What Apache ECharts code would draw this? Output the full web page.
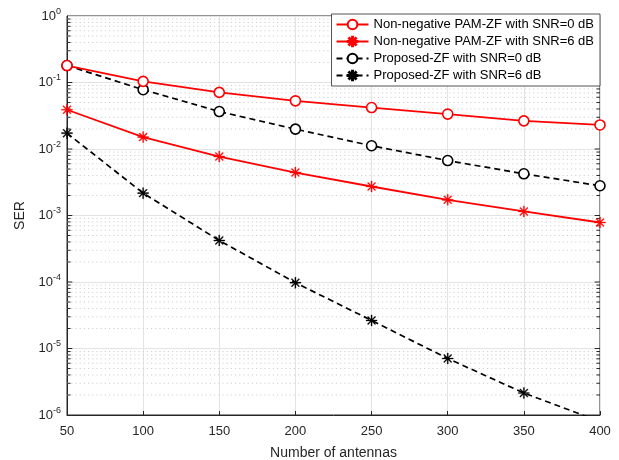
<!DOCTYPE html>
<html><head><meta charset="utf-8">
<script src="https://cdn.jsdelivr.net/npm/echarts@6/dist/echarts.min.js"></script>
<style>html,body{margin:0;padding:0;background:#fff}#c{width:619px;height:460px}</style>
</head><body><div id="c"></div>
<script>
var antennas = [50, 100, 150, 200, 250, 300, 350, 400];
var nnPam0 = [0.18, 0.104, 0.071, 0.053, 0.042, 0.0335, 0.0265, 0.023];
var nnPam6 = [0.0389, 0.0151, 0.0077, 0.00443, 0.00273, 0.00172, 0.00115, 0.000785];
var propZf0 = [0.18, 0.078, 0.0366, 0.0199, 0.0112, 0.0067, 0.00424, 0.0028];
var propZf6 = [0.0173, 0.00217, 0.000421, 0.0000977, 0.0000264, 0.00000707, 0.00000214, 0.0000008];
var seriesNames = ['Non-negative PAM-ZF with SNR=0 dB','Non-negative PAM-ZF with SNR=6 dB','Proposed-ZF with SNR=0 dB','Proposed-ZF with SNR=6 dB'];

var star = 'path://M-1,-10L1,-10L1,10L-1,10Z M-10,-1L10,-1L10,1L-10,1Z M-7.7,-6.3L-6.3,-7.7L7.7,6.3L6.3,7.7Z M6.3,-7.7L7.7,-6.3L-6.3,7.7L-7.7,6.3Z';

function pairs(ys){ return antennas.map(function(x,i){return [x, ys[i]];}); }

var minorVals = [];
for (var k = -6; k < 0; k++) for (var m = 2; m <= 9; m++) minorVals.push(m * Math.pow(10, k));
var majorVals = [];
for (var k2 = -5; k2 < 0; k2++) majorVals.push(Math.pow(10, k2));

var gridData = [];
minorVals.forEach(function(v){ gridData.push([50, v], [400, v], [225, '-']); });
var tickData = [];
minorVals.forEach(function(v){
  tickData.push([50, v], [52.3, v], [225, '-'], [397.7, v], [400, v], [225, '-']);
});
majorVals.forEach(function(v){
  tickData.push([50, v], [53.5, v], [225, '-'], [396.5, v], [400, v], [225, '-']);
});

var chart = echarts.init(document.getElementById('c'), null, {renderer:'canvas'});
var axisColor = '#262626';
var font = 'Liberation Sans, Arial, Helvetica, sans-serif';
chart.setOption({
  animation: false,
  textStyle: {fontFamily: font},
  grid: {left: 67, right: 19, top: 16, bottom: 45, show: true, borderColor: axisColor, borderWidth: 1, backgroundColor: '#fff',
         containLabel: false, outerBoundsMode: 'none'},
  legend: {
    orient: 'vertical', right: 19, top: 14,
    backgroundColor: '#fff', borderColor: axisColor, borderWidth: 0.8, borderRadius: 0,
    padding: [4, 6, 4, 4], itemGap: 4, itemWidth: 32, itemHeight: 12,
    textStyle: {fontSize: 13, color: '#000', fontFamily: font},
    data: seriesNames
  },
  xAxis: {
    type: 'value', min: 50, max: 400, interval: 50,
    name: 'Number of antennas', nameLocation: 'middle', nameGap: 31,
    nameTextStyle: {fontSize: 14, color: axisColor},
    axisLine: {show: true, lineStyle: {color: axisColor}},
    axisTick: {show: true, inside: true, length: 4, lineStyle: {color: axisColor}},
    axisLabel: {fontSize: 13, color: axisColor, margin: 10},
    splitLine: {show: true, lineStyle: {color: '#e3e3e3', width: 1}}
  },
  yAxis: {
    type: 'log', logBase: 10, min: 1e-6, max: 1,
    name: 'SER', nameLocation: 'middle', nameGap: 33,
    nameTextStyle: {fontSize: 14, color: axisColor},
    axisLine: {show: true, lineStyle: {color: axisColor}},
    axisTick: {show: false},
    axisLabel: {
      color: axisColor, margin: 6,
      formatter: function(v){ var e = Math.round(Math.log10(v)); return '{b|10}{s|' + e + '}'; },
      rich: {b: {fontSize: 13, color: axisColor, fontFamily: font}, s: {fontSize: 9, color: axisColor, verticalAlign: 'top', padding: [0,0,9,0], fontFamily: font}}
    },
    splitLine: {show: true, lineStyle: {color: '#e3e3e3', width: 1}}
  },
  series: [
    {name: 'minorgrid', type: 'line', data: gridData, symbol: 'none', silent: true, connectNulls: false,
     lineStyle: {type: [1.2, 3], color: '#cfcfcf', width: 1}, z: 1},
    {name: 'minorticks', type: 'line', data: tickData, symbol: 'none', silent: true, connectNulls: false,
     lineStyle: {color: axisColor, width: 1}, z: 2},
    {name: seriesNames[0], type: 'line', data: pairs(nnPam0), symbol: 'circle', symbolSize: 10,
     itemStyle: {color: '#fff', borderColor: '#ff0000', borderWidth: 1.6},
     lineStyle: {color: '#ff0000', width: 1.8}, z: 5},
    {name: seriesNames[1], type: 'line', data: pairs(nnPam6), symbol: star, symbolSize: 11,
     itemStyle: {color: '#ff0000', borderColor: '#ff0000', borderWidth: 0.3},
     lineStyle: {color: '#ff0000', width: 1.8}, z: 5},
    {name: seriesNames[2], type: 'line', data: pairs(propZf0), symbol: 'circle', symbolSize: 10,
     itemStyle: {color: '#fff', borderColor: '#000', borderWidth: 1.6},
     lineStyle: {color: '#000', width: 1.7, type: [6, 4]}, z: 4},
    {name: seriesNames[3], type: 'line', data: pairs(propZf6), symbol: star, symbolSize: 11,
     itemStyle: {color: '#000', borderColor: '#000', borderWidth: 0.3},
     lineStyle: {color: '#000', width: 1.7, type: [6, 4]}, z: 4, clip: true}
  ]
});
</script></body></html>
